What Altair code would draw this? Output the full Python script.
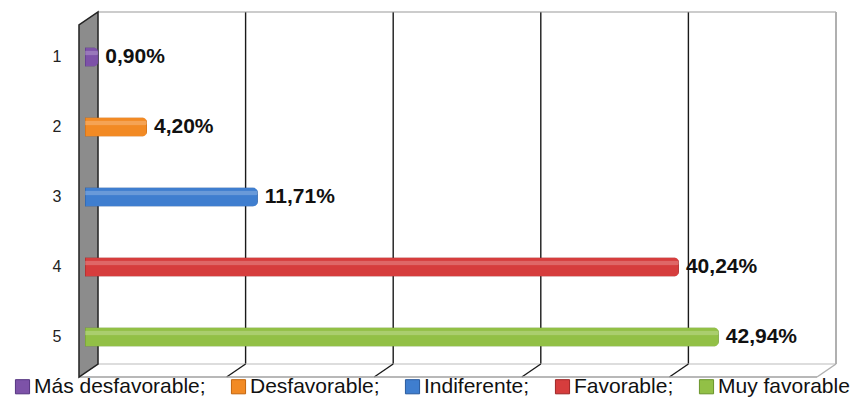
import altair as alt
import pandas as pd

# ---- data ----
categories = ["1", "2", "3", "4", "5"]
values = [0.90, 4.20, 11.71, 40.24, 42.94]
series = ["Más desfavorable", "Desfavorable", "Indiferente", "Favorable", "Muy favorable"]
grid_values = [0, 10, 20, 30, 40, 50]

# ---- styles ----
fills = ["#7d52a8", "#f28a24", "#3f7ecf", "#d63d3d", "#92c046"]
strokes = ["#553480", "#c2650e", "#2a5a9c", "#9c2626", "#6a942c"]
FONT = "Liberation Sans"
W, H = 738, 350
BACK_DX, BACK_TOP, BACK_BOTTOM = 13, -10, 342   # back plane offset (px)
DEPTH_DX, DEPTH_DY = -19, 13                      # back -> front shift (px)

labels = [f"{v:.2f}".replace(".", ",") + "%" for v in values]
df = pd.DataFrame({"cat": categories, "value": values, "label": labels, "series": series})
inner_df = pd.DataFrame({"v": grid_values[1:-1]})
last_df = pd.DataFrame({"v": [grid_values[-1]]})
first_df = pd.DataFrame({"v": [grid_values[0]]})
span_df = pd.DataFrame({"a": [grid_values[0]], "b": [grid_values[-1]]})

x_scale = alt.Scale(domain=[0, 50], nice=False, zero=True)
y_enc = alt.Y("cat:N",
              scale=alt.Scale(domain=categories, paddingInner=0, paddingOuter=0),
              axis=alt.Axis(title=None, ticks=False, domain=False, labelPadding=24,
                            labelFont=FONT, labelFontSize=16, labelColor="#222",
                            grid=False))

grid_lines = alt.Chart(inner_df).mark_rule(color="#1a1a1a", strokeWidth=1.4, xOffset=BACK_DX).encode(
    x=alt.X("v:Q", scale=x_scale, axis=None),
    y=alt.value(BACK_TOP), y2=alt.value(BACK_BOTTOM))
floor_slants = alt.Chart(inner_df).mark_rule(color="#1a1a1a", strokeWidth=1.4,
                                              xOffset=BACK_DX, x2Offset=BACK_DX + DEPTH_DX).encode(
    x=alt.X("v:Q", scale=x_scale, axis=None), x2="v:Q",
    y=alt.value(BACK_BOTTOM), y2=alt.value(BACK_BOTTOM + DEPTH_DY))
right_slant = alt.Chart(last_df).mark_rule(
    color="#b0b0b0", strokeWidth=1.5, xOffset=BACK_DX, x2Offset=BACK_DX + DEPTH_DX).encode(
    x=alt.X("v:Q", scale=x_scale, axis=None), x2="v:Q",
    y=alt.value(BACK_BOTTOM), y2=alt.value(BACK_BOTTOM + DEPTH_DY))
right_edge = alt.Chart(last_df).mark_rule(
    color="#b0b0b0", strokeWidth=2, xOffset=BACK_DX).encode(
    x=alt.X("v:Q", scale=x_scale, axis=None), y=alt.value(BACK_TOP), y2=alt.value(BACK_BOTTOM))
top_edge = alt.Chart(span_df).mark_rule(
    color="#999999", strokeWidth=1.2, xOffset=BACK_DX, x2Offset=BACK_DX).encode(
    x=alt.X("a:Q", scale=x_scale, axis=None), x2="b:Q", y=alt.value(BACK_TOP))
floor_back = alt.Chart(span_df).mark_rule(
    color="#bbbbbb", strokeWidth=1.2, xOffset=BACK_DX, x2Offset=BACK_DX).encode(
    x=alt.X("a:Q", scale=x_scale, axis=None), x2="b:Q", y=alt.value(BACK_BOTTOM))
floor_front = alt.Chart(span_df).mark_rule(
    color="#a0a0a0", strokeWidth=1.5, xOffset=BACK_DX + DEPTH_DX, x2Offset=BACK_DX + DEPTH_DX).encode(
    x=alt.X("a:Q", scale=x_scale, axis=None), x2="b:Q", y=alt.value(BACK_BOTTOM + DEPTH_DY))

# left wall: parallelogram drawn as a custom symbol
half_w = abs(DEPTH_DX) / 2
half_h = (BACK_BOTTOM + DEPTH_DY - BACK_TOP) / 2
s = half_h
cx = BACK_DX + DEPTH_DX / 2
cy = (BACK_TOP + BACK_BOTTOM + DEPTH_DY) / 2
fx = half_w / s
fy = (half_h - DEPTH_DY) / s
wall_path = f"M{fx:.4f},-1 L{fx:.4f},{fy:.4f} L{-fx:.4f},1 L{-fx:.4f},{-fy:.4f} Z"
wall = alt.Chart(first_df).mark_point(
    shape=wall_path, size=(2 * s) ** 2, filled=True, fill="#8c8c8c", fillOpacity=1,
    stroke="#222222", strokeWidth=1.5, opacity=1, xOffset=cx).encode(
    x=alt.X("v:Q", scale=x_scale, axis=None), y=alt.value(cy))

bars = alt.Chart(df).mark_bar(height=19, cornerRadiusEnd=5, strokeWidth=1).encode(
    x=alt.X("value:Q", scale=x_scale, axis=None),
    y=y_enc,
    fill=alt.Fill("series:N",
                  scale=alt.Scale(domain=series, range=fills),
                  legend=alt.Legend(title=None, orient="none", legendX=-73, legendY=354,
                                    direction="horizontal", symbolType="square",
                                    symbolSize=200, symbolStrokeWidth=1,
                                    symbolStrokeColor="#555555",
                                    labelFont=FONT, labelFontSize=21, labelColor="#111111",
                                    labelLimit=400, columnPadding=22, labelOffset=1,
                                    labelExpr="datum.label == 'Muy favorable' ? datum.label : datum.label + ';'")),
    stroke=alt.Stroke("series:N", scale=alt.Scale(domain=series, range=strokes), legend=None))

gloss = alt.Chart(df).mark_bar(height=5, yOffset=-4, cornerRadiusEnd=3,
                               color="white", opacity=0.22).encode(
    x=alt.X("value:Q", scale=x_scale, axis=None), y=alt.Y("cat:N"))

text = alt.Chart(df).mark_text(align="left", baseline="middle", dx=7, fontSize=21,
                               fontWeight="bold", font=FONT, color="#111111").encode(
    x=alt.X("value:Q", scale=x_scale, axis=None), y=alt.Y("cat:N"), text="label:N")

chart = alt.layer(
    grid_lines, floor_back, floor_slants, top_edge, right_edge, right_slant, floor_front,
    wall, bars, gloss, text
).properties(
    width=W, height=H,
    padding={"left": 77, "top": 14, "right": 35, "bottom": 27},
    autosize=alt.AutoSizeParams(type="none"),
).configure_view(stroke=None)

chart.save("out.html", embed_options={"renderer": "svg", "actions": False})
